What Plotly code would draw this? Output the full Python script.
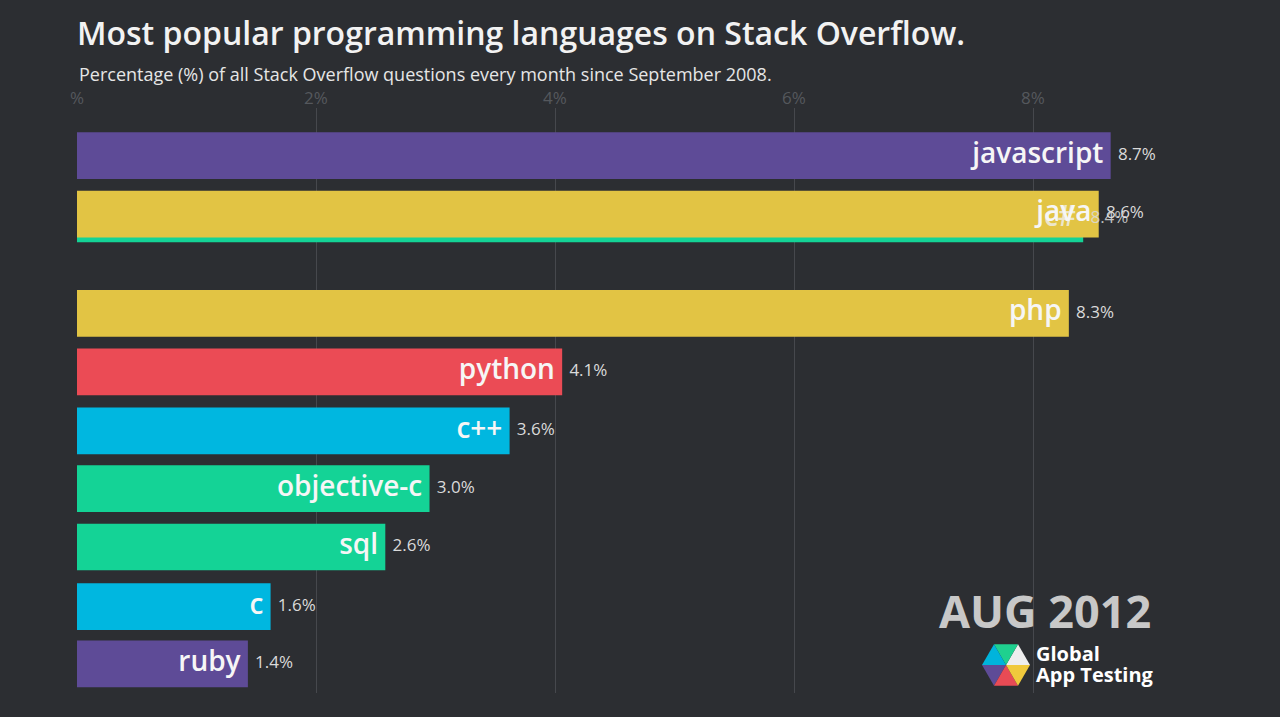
import math

import pandas as pd
import plotly.graph_objects as go

# Frame "AUG 2012" of the bar race: share of questions (%) and animated rank slot
languages = ["javascript", "java", "c#", "php", "python", "c++",
             "objective-c", "sql", "c", "ruby"]
share = [8.65, 8.55, 8.42, 8.30, 4.06, 3.62, 2.95, 2.58, 1.62, 1.43]
rank = [0.0, 1.0, 1.08, 2.70, 3.70, 4.71, 5.70, 6.70, 7.72, 8.70]
colors = ["#5e4b97", "#e2c444", "#14d396", "#e2c444", "#eb4b55", "#00b7e0",
          "#14d396", "#14d396", "#00b7e0", "#5e4b97"]
name_colors = ["#f6f6f6", "#f6f6f6", "rgba(240,240,240,0.8)", "#f6f6f6",
               "#f6f6f6", "#f6f6f6", "#f6f6f6", "#f6f6f6", "#f6f6f6", "#f6f6f6"]
value_colors = ["#dadada", "#dadada", "rgba(218,218,218,0.85)", "#dadada",
                "#dadada", "#dadada", "#dadada", "#dadada", "#dadada", "#dadada"]

tick_vals = [0, 2, 4, 6, 8]
tick_text = ["%", "2%", "4%", "6%", "8%"]

date_label = "AUG 2012"

W, H = 1280, 717
L, R, T, B = 77, 8, 108, 24
BG = "#2c2e32"

df = pd.DataFrame(dict(lang=languages, share=share, rank=rank, color=colors,
                       ncol=name_colors, vcol=value_colors))
# bars further down are drawn first so java ends up on top of c#
df = df.sort_values("rank", ascending=False)

fig = go.Figure()

fig.add_trace(go.Bar(
    x=df["share"], y=df["rank"], orientation="h",
    width=0.8,
    marker=dict(color=df["color"], line=dict(width=0)),
    hoverinfo="skip", showlegend=False
))

# language names, inside the end of each bar (nbsp gives a little padding)
fig.add_trace(go.Scatter(
    x=df["share"], y=df["rank"], mode="text",
    text=[n + "\u00a0" for n in df["lang"]], textposition="middle left",
    textfont=dict(family="Open Sans", size=28, color=list(df["ncol"]), weight=600),
    hoverinfo="skip", showlegend=False
))

# values just past the end of each bar
fig.add_trace(go.Scatter(
    x=df["share"], y=df["rank"], mode="text",
    text=["\u00a0\u2009" + f"{v:.1f}%" for v in df["share"]],
    textposition="middle right",
    textfont=dict(family="Open Sans", size=17, color=list(df["vcol"])),
    hoverinfo="skip", showlegend=False
))


def px_to_paper(px, py):
    return (px - L) / (W - L - R), (H - B - py) / (H - T - B)


# Global App Testing logo: flat-top hexagon cut into six coloured wedges
cx, cy, r = 1006, 665, 24
wedge_colors = ["#eeeeee", "#1fd08f", "#00b4dc", "#5e4b97", "#e84b55", "#f0c93c"]
shapes = []
for i, col in enumerate(wedge_colors):
    a0 = math.radians(60 * i)
    a1 = math.radians(60 * (i + 1))
    pts = [(cx, cy), (cx + r * math.cos(a0), cy - r * math.sin(a0)),
           (cx + r * math.cos(a1), cy - r * math.sin(a1))]
    pp = [px_to_paper(*p) for p in pts]
    path = "M {} {} L {} {} L {} {} Z".format(*[c for p in pp for c in p])
    shapes.append(dict(type="path", xref="paper", yref="paper", path=path,
                       fillcolor=col, line=dict(width=0), layer="above"))

fig.update_layout(
    width=W, height=H,
    margin=dict(l=L, r=R, t=T, b=B),
    paper_bgcolor=BG,
    plot_bgcolor=BG,
    font=dict(family="Open Sans", color="#dadada"),
    title=dict(
        text="Most popular programming languages on Stack Overflow.",
        x=L / W, xanchor="left", y=1 - 34 / H, yanchor="middle",
        font=dict(family="Open Sans", size=32, color="#f2f2f2", weight=600)
    ),
    xaxis=dict(
        side="top", range=[0, 10], tickvals=tick_vals, ticktext=tick_text,
        showgrid=True, gridcolor="#46484d", gridwidth=1,
        zeroline=False, showline=False, ticks="",
        tickfont=dict(family="Open Sans", size=17, color="#55585d"),
        fixedrange=True
    ),
    yaxis=dict(
        range=[9.2, -0.817], showgrid=False, zeroline=False,
        showticklabels=False, showline=False, fixedrange=True
    ),
    shapes=shapes,
    annotations=[
        dict(text="Percentage (%) of all Stack Overflow questions every month since September 2008.",
             xref="paper", yref="paper", x=0, y=1 + 34 / (H - T - B),
             xanchor="left", yanchor="middle", showarrow=False,
             font=dict(family="Open Sans", size=18, color="#e6e6e6")),
        dict(text=date_label, xref="paper", yref="paper",
             x=px_to_paper(1153, 610)[0], y=px_to_paper(1153, 610)[1],
             xanchor="right", yanchor="middle", showarrow=False,
             font=dict(family="Open Sans", size=45, color="#c8c8c8", weight=700)),
        dict(text="Global", xref="paper", yref="paper",
             x=px_to_paper(1034, 653)[0], y=px_to_paper(1034, 653)[1],
             xanchor="left", yanchor="middle", align="left", showarrow=False,
             font=dict(family="Open Sans", size=20, color="#ffffff", weight=700)),
        dict(text="App Testing", xref="paper", yref="paper",
             x=px_to_paper(1034, 674)[0], y=px_to_paper(1034, 674)[1],
             xanchor="left", yanchor="middle", align="left", showarrow=False,
             font=dict(family="Open Sans", size=20, color="#ffffff", weight=700)),
    ],
)

# drop the page margin so the figure sits at the window's top-left corner
fig.write_html(
    "out.html",
    config={"displayModeBar": False},
    post_script="document.body.style.margin='0';"
                "document.body.style.background='" + BG + "';"
)
